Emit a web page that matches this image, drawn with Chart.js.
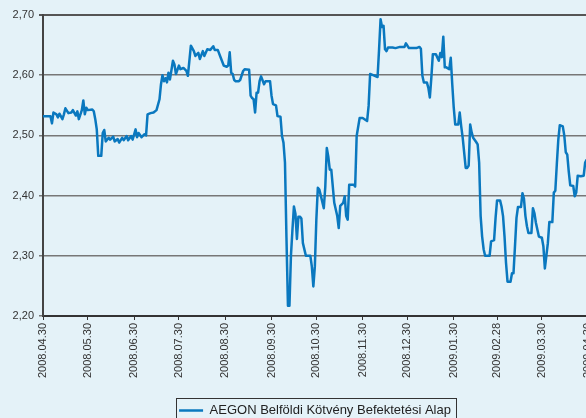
<!DOCTYPE html>
<html lang="hu">
<head>
<meta charset="UTF-8">
<title>AEGON Belföldi Kötvény Befektetési Alap</title>
<script src="https://cdn.jsdelivr.net/npm/chart.js"></script>
<style>
  html, body { margin: 0; padding: 0; background: #e4f2f8; overflow: hidden; }
</style>
</head>
<body>
<canvas id="chart" width="634" height="427"></canvas>
<script>
// napok 2008.04.30-tól számolva, árfolyam
const seriesName = "AEGON Belföldi Kötvény Befektetési Alap";
const tickDays = [0, 30, 61, 91, 122, 153, 183, 214, 244, 275, 304, 334, 365];
const tickLabels = ["2008.04.30", "2008.05.30", "2008.06.30", "2008.07.30", "2008.08.30", "2008.09.30",
  "2008.10.30", "2008.11.30", "2008.12.30", "2009.01.30", "2009.02.28", "2009.03.30", "2009.04.30"];
const yTicks = [2.2, 2.3, 2.4, 2.5, 2.6, 2.7];

const days = [0, 5, 6, 7, 9, 10, 11, 13, 14, 15, 17, 19, 20, 22, 23, 24, 26, 27, 28, 29,
  30, 33, 34, 35, 36, 37, 39, 40, 41, 42, 44, 45, 47, 48, 50, 51, 53, 54, 56, 57,
  59, 60, 62, 63, 64, 66, 68, 69, 70, 72, 74, 76, 78, 79, 80, 81, 82, 83, 84, 85,
  87, 88, 89, 91, 92, 94, 96, 97, 99, 101, 102, 104, 105, 107, 108, 110, 112, 114, 115, 117,
  119, 121, 123, 124, 125, 126, 127, 128, 129, 131, 132, 134, 135, 138, 139, 140, 141, 142, 143, 144,
  145, 146, 148, 149, 152, 153, 154, 156, 157, 159, 160, 161, 162, 163, 164, 165, 166, 167, 168, 169,
  170, 171, 172, 173, 174, 176, 179, 180, 181, 182, 183, 184, 185, 186, 188, 189, 190, 191, 192, 193,
  195, 197, 198, 199, 201, 202, 203, 204, 205, 208, 209, 210, 212, 214, 217, 218, 219, 221, 224, 225,
  226, 227, 228, 229, 230, 231, 234, 236, 239, 242, 243, 245, 250, 252, 253, 254, 255, 257, 258, 259,
  260, 261, 263, 265, 266, 267, 268, 269, 270, 272, 273, 274, 275, 276, 278, 279, 280, 281, 283, 284,
  285, 286, 287, 288, 290, 291, 292, 293, 294, 295, 296, 299, 300, 302, 303, 304, 306, 307, 308, 309,
  310, 311, 313, 314, 315, 316, 317, 318, 320, 321, 322, 323, 324, 325, 327, 328, 329, 330, 332, 334,
  335, 336, 337, 338, 339, 341, 342, 343, 344, 345, 346, 348, 349, 350, 351, 352, 353, 355, 356, 357,
  358, 360, 362, 363, 364];

const navValues = [2.532, 2.532, 2.520, 2.538, 2.535, 2.530, 2.536, 2.527, 2.535, 2.545, 2.537, 2.538, 2.542, 2.533, 2.540, 2.527, 2.542, 2.558, 2.535, 2.546,
  2.542, 2.543, 2.540, 2.527, 2.510, 2.466, 2.466, 2.504, 2.509, 2.490, 2.496, 2.493, 2.498, 2.490, 2.494, 2.488, 2.496, 2.492, 2.499, 2.492,
  2.499, 2.493, 2.510, 2.497, 2.504, 2.497, 2.502, 2.500, 2.535, 2.537, 2.538, 2.542, 2.560, 2.585, 2.600, 2.590, 2.595, 2.588, 2.604, 2.593,
  2.624, 2.618, 2.602, 2.616, 2.610, 2.612, 2.607, 2.599, 2.649, 2.640, 2.632, 2.637, 2.627, 2.640, 2.632, 2.643, 2.642, 2.648, 2.642, 2.642,
  2.629, 2.616, 2.614, 2.616, 2.638, 2.604, 2.602, 2.592, 2.590, 2.590, 2.592, 2.607, 2.610, 2.609, 2.566, 2.562, 2.560, 2.538, 2.571, 2.571,
  2.590, 2.598, 2.585, 2.590, 2.590, 2.566, 2.552, 2.550, 2.532, 2.531, 2.499, 2.488, 2.455, 2.330, 2.217, 2.217, 2.300, 2.343, 2.382, 2.370,
  2.328, 2.365, 2.365, 2.362, 2.321, 2.300, 2.300, 2.282, 2.249, 2.282, 2.360, 2.413, 2.410, 2.400, 2.379, 2.415, 2.479, 2.465, 2.443, 2.443,
  2.388, 2.366, 2.346, 2.383, 2.388, 2.399, 2.366, 2.360, 2.418, 2.418, 2.415, 2.499, 2.529, 2.529, 2.524, 2.549, 2.602, 2.600, 2.597, 2.643,
  2.693, 2.680, 2.682, 2.643, 2.640, 2.646, 2.646, 2.645, 2.647, 2.647, 2.653, 2.645, 2.645, 2.647, 2.644, 2.599, 2.588, 2.588, 2.579, 2.563,
  2.596, 2.635, 2.635, 2.624, 2.637, 2.630, 2.664, 2.613, 2.613, 2.610, 2.629, 2.585, 2.546, 2.518, 2.518, 2.538, 2.515, 2.496, 2.446, 2.446,
  2.450, 2.518, 2.505, 2.496, 2.489, 2.485, 2.455, 2.366, 2.332, 2.311, 2.300, 2.300, 2.324, 2.326, 2.363, 2.392, 2.392, 2.382, 2.366, 2.332,
  2.288, 2.257, 2.257, 2.271, 2.271, 2.316, 2.363, 2.381, 2.381, 2.404, 2.395, 2.366, 2.349, 2.338, 2.338, 2.379, 2.371, 2.355, 2.332, 2.330,
  2.316, 2.279, 2.300, 2.321, 2.356, 2.356, 2.405, 2.408, 2.452, 2.493, 2.517, 2.515, 2.500, 2.472, 2.468, 2.440, 2.417, 2.416, 2.399, 2.405,
  2.433, 2.432, 2.433, 2.455, 2.460];

const points = days.map((d, i) => ({ x: d, y: navValues[i] }));

// keret a jelmagyarázat köré
const legendFrame = {
  id: "legendFrame",
  afterDraw(chart) {
    const box = chart.legend.legendHitBoxes[0];
    if (!box) return;
    const ctx = chart.ctx;
    ctx.save();
    ctx.strokeStyle = "#333";
    ctx.lineWidth = 1;
    ctx.strokeRect(Math.round(box.left) - 2.5, Math.round(box.top) - 5.5, Math.round(box.width) + 8, Math.round(box.height) + 11);
    ctx.restore();
  }
};

Chart.defaults.font.family = "'Liberation Sans', Arial, sans-serif";
Chart.defaults.color = "#333";

new Chart(document.getElementById("chart"), {
  type: "line",
  data: {
    datasets: [{
      label: seriesName,
      data: points,
      borderColor: "#0a78bf",
      backgroundColor: "#0a78bf",
      borderWidth: 2.5,
      borderJoinStyle: "round",
      pointRadius: 0,
      tension: 0
    }]
  },
  options: {
    responsive: false,
    animation: false,
    layout: { padding: { top: 15, right: 4, left: 0, bottom: 0 } },
    plugins: {
      tooltip: { enabled: false },
      legend: {
        position: "bottom",
        labels: {
          usePointStyle: true,
          pointStyle: "line",
          pointStyleWidth: 24,
          padding: 10,
          color: "#222",
          font: { size: 13 }
        }
      }
    },
    scales: {
      x: {
        type: "linear",
        min: 0,
        max: 393,
        afterFit(scale) { scale.height = 78; },
        afterBuildTicks(scale) { scale.ticks = tickDays.map(v => ({ value: v })); },
        grid: { drawOnChartArea: false, drawTicks: true, tickLength: 4, color: "#333", lineWidth: 1 },
        border: { display: true, color: "#333", width: 2 },
        ticks: {
          autoSkip: false,
          minRotation: 90,
          maxRotation: 90,
          padding: 3,
          font: { size: 11 },
          callback: v => tickLabels[tickDays.indexOf(v)]
        }
      },
      y: {
        min: 2.2,
        max: 2.7,
        afterFit(scale) { scale.width = 43; },
        afterBuildTicks(scale) { scale.ticks = yTicks.map(v => ({ value: v })); },
        grid: {
          color: ctx => ctx.tick && ctx.tick.value === 2.7 ? "#555" : "#777",
          lineWidth: ctx => ctx.tick && ctx.tick.value === 2.7 ? 2 : 1.5,
          tickLength: 4
        },
        border: { display: true, color: "#444", width: 2 },
        ticks: {
          padding: 5,
          font: { size: 11 },
          callback: v => v.toFixed(2).replace(".", ",")
        }
      }
    }
  },
  plugins: [legendFrame]
});
</script>
</body>
</html>
